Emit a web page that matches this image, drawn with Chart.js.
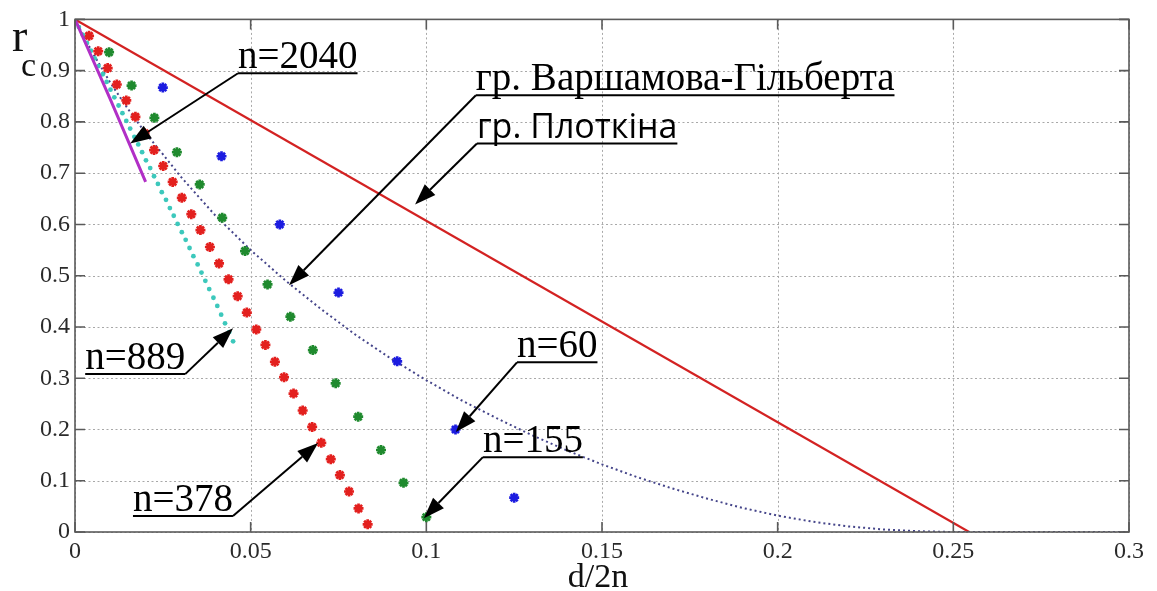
<!DOCTYPE html>
<html>
<head>
<meta charset="utf-8">
<script src="https://cdn.jsdelivr.net/npm/chart.js@4.4.1/dist/chart.umd.min.js"></script>
<style>
  html, body { margin: 0; padding: 0; background: #ffffff; }
  #wrap { width: 1157px; height: 591px; position: relative; }
</style>
</head>
<body>
<div id="wrap"><canvas id="c" width="1157" height="591"></canvas></div>
<script>
// Axis ticks
const xTicks = [0, 0.05, 0.1, 0.15, 0.2, 0.25, 0.3];
const xTickLabels = ['0', '0.05', '0.1', '0.15', '0.2', '0.25', '0.3'];
const yTicks = [0, 0.1, 0.2, 0.3, 0.4, 0.5, 0.6, 0.7, 0.8, 0.9, 1];
const yTickLabels = ['0', '0.1', '0.2', '0.3', '0.4', '0.5', '0.6', '0.7', '0.8', '0.9', '1'];

// Plotkin bound
const plotkinX = [0, 0.2545];
const plotkinY = [1, 0];

// Varshamov-Gilbert bound
const gvX = [0, 0.005, 0.01, 0.015, 0.02, 0.025, 0.03, 0.04, 0.05, 0.06, 0.07, 0.08, 0.09, 0.10,
             0.11, 0.12, 0.13, 0.14, 0.15, 0.16, 0.17, 0.18, 0.19, 0.20, 0.21, 0.22, 0.23, 0.24,
             0.25, 0.26, 0.27, 0.28, 0.29, 0.30];
const gvY = [1, 0.935, 0.877, 0.826, 0.779, 0.737, 0.694, 0.617, 0.550, 0.490, 0.435, 0.384, 0.338, 0.296,
             0.257, 0.222, 0.189, 0.159, 0.132, 0.107, 0.085, 0.065, 0.047, 0.032, 0.020, 0.011, 0.005, 0.0015,
             0, 0, 0, 0, 0, 0];

// Codes, n = 60
const n60X = [0.0250, 0.0417, 0.0583, 0.0750, 0.0917, 0.1083, 0.1250];
const n60Y = [0.867, 0.733, 0.600, 0.467, 0.333, 0.200, 0.067];

// Codes, n = 155
const n155X = [0.0097, 0.0161, 0.0226, 0.0290, 0.0355, 0.0419, 0.0484, 0.0548, 0.0613, 0.0677,
               0.0742, 0.0806, 0.0871, 0.0935, 0.1000];
const n155Y = [0.936, 0.871, 0.808, 0.741, 0.678, 0.613, 0.548, 0.483, 0.420, 0.355,
               0.290, 0.225, 0.160, 0.096, 0.029];

// Codes, n = 378
const n378X = [0.0040, 0.0066, 0.0093, 0.0119, 0.0146, 0.0172, 0.0198, 0.0225, 0.0251, 0.0278,
               0.0304, 0.0331, 0.0357, 0.0384, 0.0410, 0.0437, 0.0463, 0.0489, 0.0516, 0.0542,
               0.0569, 0.0595, 0.0622, 0.0648, 0.0675, 0.0701, 0.0728, 0.0754, 0.0780, 0.0807, 0.0833];
const n378Y = [0.968, 0.938, 0.905, 0.873, 0.842, 0.810, 0.778, 0.745, 0.714, 0.683,
               0.652, 0.620, 0.589, 0.556, 0.524, 0.493, 0.460, 0.428, 0.395, 0.365,
               0.332, 0.302, 0.270, 0.237, 0.205, 0.174, 0.142, 0.111, 0.079, 0.046, 0.015];

// Codes, n = 889
const n889X = [0.0011, 0.0022, 0.0034, 0.0045, 0.0056, 0.0067, 0.0079, 0.0090, 0.0101, 0.0112,
               0.0124, 0.0135, 0.0146, 0.0157, 0.0169, 0.0180, 0.0191, 0.0202, 0.0214, 0.0225,
               0.0236, 0.0247, 0.0259, 0.0270, 0.0281, 0.0292, 0.0304, 0.0315, 0.0326, 0.0337,
               0.0349, 0.0360, 0.0371, 0.0382, 0.0394, 0.0405, 0.0416, 0.0427, 0.0439, 0.0450];
const n889Y = [0.985, 0.970, 0.954, 0.939, 0.924, 0.909, 0.893, 0.878, 0.863, 0.848,
               0.832, 0.817, 0.802, 0.787, 0.771, 0.756, 0.741, 0.725, 0.710, 0.694,
               0.679, 0.663, 0.648, 0.632, 0.617, 0.601, 0.585, 0.570, 0.554, 0.538,
               0.522, 0.506, 0.490, 0.474, 0.457, 0.441, 0.424, 0.407, 0.390, 0.372];

// Codes, n = 2040
const n2040X = [0, 0.0100, 0.0201];
const n2040Y = [1, 0.845, 0.683];

const pts = (xs, ys) => xs.map((x, i) => ({ x: x, y: ys[i] }));

// Callout labels: text anchored at (x, y) in data units, y = underline level,
// arrow leaves the underline at its left or right end and points to (tipX, tipY).
const SERIF = '"Liberation Serif", "Times New Roman", serif';
const callouts = [
  { text: 'n=2040', font: '39px ' + SERIF, x: 0.0464, y: 0.895, side: 'left', tipX: 0.0157, tipY: 0.758 },
  { text: 'гр. Варшамова-Гільберта', font: '39px ' + SERIF, x: 0.1141, y: 0.852, side: 'left', tipX: 0.0609, tipY: 0.4815 },
  { text: 'гр. Плоткіна', font: '34px "Open Sans", sans-serif', x: 0.1144, y: 0.758, side: 'left', tipX: 0.0968, tipY: 0.639 },
  { text: 'n=889', font: '39px ' + SERIF, x: 0.0029, y: 0.308, side: 'right', tipX: 0.0450, tipY: 0.3977 },
  { text: 'n=378', font: '39px ' + SERIF, x: 0.0165, y: 0.031, side: 'right', tipX: 0.0692, tipY: 0.1735 },
  { text: 'n=60', font: '39px ' + SERIF, x: 0.1258, y: 0.331, side: 'left', tipX: 0.1084, tipY: 0.195 },
  { text: 'n=155', font: '39px ' + SERIF, x: 0.1161, y: 0.146, side: 'left', tipX: 0.0993, tipY: 0.027 }
];

function arrow(ctx, x0, y0, x1, y1) {
  const ang = Math.atan2(y1 - y0, x1 - x0);
  const len = 21, half = 7.5;
  const bx = x1 - len * Math.cos(ang), by = y1 - len * Math.sin(ang);
  ctx.beginPath();
  ctx.moveTo(x0, y0);
  ctx.lineTo(bx, by);
  ctx.stroke();
  ctx.beginPath();
  ctx.moveTo(x1, y1);
  ctx.lineTo(bx + half * Math.sin(ang), by - half * Math.cos(ang));
  ctx.lineTo(bx - half * Math.sin(ang), by + half * Math.cos(ang));
  ctx.closePath();
  ctx.fill();
}

// Dotted grid behind the data
const gridPlugin = {
  id: 'dottedGrid',
  beforeDatasetsDraw(chart) {
    const { ctx, chartArea: a, scales: { x, y } } = chart;
    ctx.save();
    ctx.strokeStyle = '#a8a8a8';
    ctx.lineWidth = 1;
    ctx.setLineDash([2, 2.5]);
    xTicks.forEach(v => {
      const px = Math.round(x.getPixelForValue(v)) + 0.5;
      ctx.beginPath(); ctx.moveTo(px, a.top); ctx.lineTo(px, a.bottom); ctx.stroke();
    });
    yTicks.forEach(v => {
      const py = Math.round(y.getPixelForValue(v)) + 0.5;
      ctx.beginPath(); ctx.moveTo(a.left, py); ctx.lineTo(a.right, py); ctx.stroke();
    });
    ctx.restore();
  }
};

// Box, inner ticks, axis titles and callouts on top
const overlayPlugin = {
  id: 'overlay',
  afterDraw(chart) {
    const { ctx, chartArea: a, scales: { x, y } } = chart;
    ctx.save();
    ctx.strokeStyle = '#5a5a5a';
    ctx.lineWidth = 1.6;
    ctx.setLineDash([]);
    ctx.strokeRect(a.left, a.top, a.right - a.left, a.bottom - a.top);
    const tl = 10;
    xTicks.forEach(v => {
      const px = x.getPixelForValue(v);
      ctx.beginPath();
      ctx.moveTo(px, a.bottom); ctx.lineTo(px, a.bottom - tl);
      ctx.moveTo(px, a.top); ctx.lineTo(px, a.top + tl);
      ctx.stroke();
    });
    yTicks.forEach(v => {
      const py = y.getPixelForValue(v);
      ctx.beginPath();
      ctx.moveTo(a.left, py); ctx.lineTo(a.left + tl, py);
      ctx.moveTo(a.right, py); ctx.lineTo(a.right - tl, py);
      ctx.stroke();
    });

    // axis titles
    ctx.fillStyle = '#111';
    ctx.textBaseline = 'alphabetic';
    ctx.textAlign = 'left';
    ctx.font = '46px ' + SERIF;
    ctx.fillText('r', 12, 51);
    ctx.font = '34px ' + SERIF;
    ctx.fillText('c', 21, 76);
    ctx.textAlign = 'center';
    ctx.font = '34px ' + SERIF;
    ctx.fillText('d/2n', (a.left + a.right) / 2 - 4, 587);

    // callouts
    ctx.fillStyle = '#000';
    ctx.strokeStyle = '#000';
    ctx.lineWidth = 2;
    ctx.textAlign = 'left';
    callouts.forEach(c => {
      ctx.font = c.font;
      const w = ctx.measureText(c.text).width;
      const tx = x.getPixelForValue(c.x);
      const uy = y.getPixelForValue(c.y);
      ctx.fillText(c.text, tx, uy - 5);
      ctx.beginPath(); ctx.moveTo(tx, uy); ctx.lineTo(tx + w, uy); ctx.stroke();
      const sx = c.side === 'left' ? tx : tx + w;
      arrow(ctx, sx, uy, x.getPixelForValue(c.tipX), y.getPixelForValue(c.tipY));
    });
    ctx.restore();
  }
};

const starSet = (xs, ys, color) => ({
  data: pts(xs, ys), showLine: false, pointStyle: 'star', pointRadius: 5,
  borderColor: color, backgroundColor: color, pointBorderWidth: 2.7
});

new Chart(document.getElementById('c'), {
  type: 'scatter',
  data: {
    datasets: [
      { data: pts(n2040X, n2040Y), showLine: true, borderColor: '#b12fc6', borderWidth: 3, pointRadius: 0, order: 1 },
      { data: pts(n889X, n889Y), showLine: false, pointStyle: 'circle', pointRadius: 2.4,
        backgroundColor: '#3cc8bc', borderColor: '#3cc8bc', pointBorderWidth: 0, order: 2 },
      Object.assign(starSet(n378X, n378Y, '#e3201e'), { order: 3 }),
      Object.assign(starSet(n155X, n155Y, '#1f8a2e'), { order: 4 }),
      Object.assign(starSet(n60X, n60Y, '#1c1ce0'), { order: 5 }),
      { data: pts(gvX, gvY), showLine: true, borderColor: '#45458a', borderWidth: 2, borderDash: [2, 3],
        pointRadius: 0, order: 6 },
      { data: pts(plotkinX, plotkinY), showLine: true, borderColor: '#d32222', borderWidth: 2.2, pointRadius: 0, order: 7 }
    ]
  },
  options: {
    responsive: false,
    animation: false,
    devicePixelRatio: 1,
    events: [],
    layout: { padding: { top: 19, right: 28, left: 0, bottom: 0 } },
    plugins: { legend: { display: false }, tooltip: { enabled: false } },
    scales: {
      x: {
        type: 'linear', min: 0, max: 0.3,
        afterBuildTicks: s => { s.ticks = xTicks.map(v => ({ value: v })); },
        afterFit: s => { s.height = 59; },
        grid: { display: false, drawTicks: false },
        border: { display: false },
        ticks: {
          padding: 5, color: '#2a2a2a', maxRotation: 0, autoSkip: false,
          font: { family: '"Liberation Serif", serif', size: 24 },
          callback: (v, i) => xTickLabels[i]
        }
      },
      y: {
        type: 'linear', min: 0, max: 1,
        afterBuildTicks: s => { s.ticks = yTicks.map(v => ({ value: v })); },
        afterFit: s => { s.width = 75; },
        grid: { display: false, drawTicks: false },
        border: { display: false },
        ticks: {
          padding: 5, color: '#2a2a2a', autoSkip: false,
          font: { family: '"Liberation Serif", serif', size: 24 },
          callback: (v, i) => yTickLabels[i]
        }
      }
    }
  },
  plugins: [gridPlugin, overlayPlugin]
});
</script>
</body>
</html>
